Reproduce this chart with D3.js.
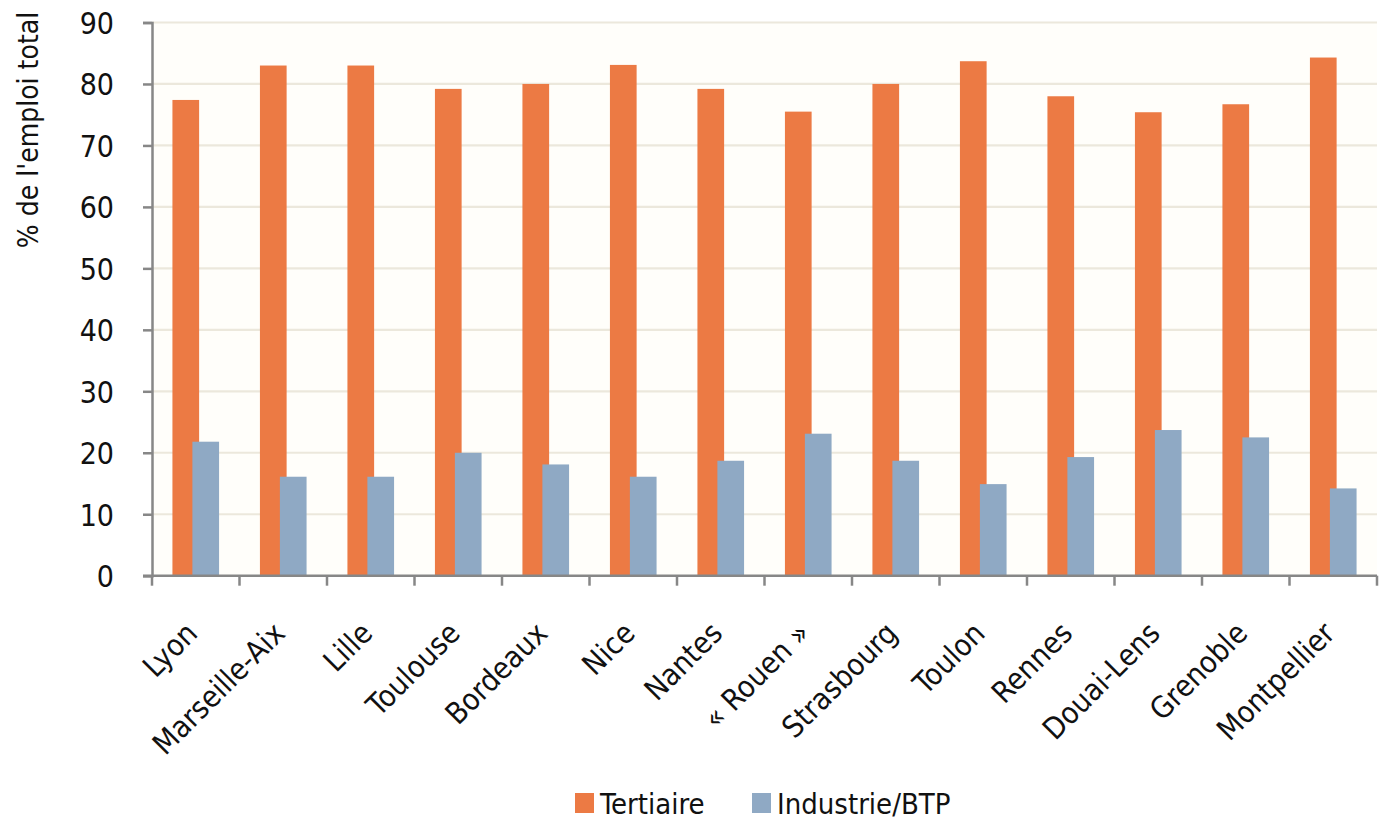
<!DOCTYPE html>
<html>
<head>
<meta charset="utf-8">
<script src="https://cdn.jsdelivr.net/npm/d3@7"></script>
<style>
  html, body { margin: 0; padding: 0; background: #ffffff; }
  svg text { font-family: "Liberation Sans Narrow", "DejaVu Sans Condensed", "Open Sans", sans-serif; font-stretch: condensed; fill: #111; }
</style>
</head>
<body>
<div id="chart"></div>
<script>
// données
const villes = ["Lyon", "Marseille-Aix", "Lille", "Toulouse", "Bordeaux", "Nice", "Nantes",
  "« Rouen »", "Strasbourg", "Toulon", "Rennes", "Douai-Lens", "Grenoble", "Montpellier"];
const tertiaire = [77.4, 83.0, 83.0, 79.2, 80.0, 83.1, 79.2, 75.5, 80.0, 83.7, 78.0, 75.4, 76.7, 84.3];
const industrie = [21.8, 16.1, 16.1, 20.0, 18.1, 16.1, 18.7, 23.1, 18.7, 14.9, 19.3, 23.7, 22.5, 14.2];
const yTicks = [0, 10, 20, 30, 40, 50, 60, 70, 80, 90];
const seriesNames = ["Tertiaire", "Industrie/BTP"];
const colors = ["#EC7A44", "#8FA9C4"];

const width = 1382, height = 825;
const margin = { top: 22.5, right: 5, bottom: 249.3, left: 152 };

const svg = d3.select("#chart").append("svg")
  .attr("width", width)
  .attr("height", height);

const x = d3.scaleBand()
  .domain(villes)
  .range([margin.left, width - margin.right])
  .padding(0);

const y = d3.scaleLinear()
  .domain([0, 90])
  .range([height - margin.bottom, margin.top]);

// fond de la zone de tracé
svg.append("rect")
  .attr("x", margin.left)
  .attr("y", y(90))
  .attr("width", x.range()[1] - margin.left)
  .attr("height", y(0) - y(90))
  .attr("fill", "#FFFEFA");

// grille
svg.append("g")
  .selectAll("line")
  .data(yTicks.filter(d => d > 0))
  .enter()
  .append("line")
  .attr("x1", margin.left)
  .attr("x2", x.range()[1])
  .attr("y1", d => y(d))
  .attr("y2", d => y(d))
  .attr("stroke", "#ECE8DC")
  .attr("stroke-width", 2.2);

// barres
const bw = x.bandwidth() * 0.305;
const overlap = x.bandwidth() * 0.077;
const data = villes.map((v, i) => ({ ville: v, values: [tertiaire[i], industrie[i]] }));

const groups = svg.append("g")
  .selectAll(".groupe")
  .data(data)
  .enter()
  .append("g")
  .attr("class", "groupe")
  .attr("transform", d => "translate(" + (x(d.ville) + x.bandwidth() / 2) + ",0)");

groups.selectAll("rect")
  .data(d => d.values)
  .enter()
  .append("rect")
  .attr("x", (d, i) => i === 0 ? -(2 * bw - overlap) / 2 : -(2 * bw - overlap) / 2 + bw - overlap)
  .attr("y", d => y(d))
  .attr("width", bw)
  .attr("height", d => y(0) - y(d))
  .attr("fill", (d, i) => colors[i]);

// axe Y
const axisY = d3.axisLeft(y)
  .tickValues(yTicks)
  .tickSize(9)
  .tickPadding(29)
  .tickFormat(d3.format("d"));

const gy = svg.append("g")
  .attr("transform", "translate(" + margin.left + ",0)")
  .call(axisY);
gy.select(".domain").attr("stroke", "#878787").attr("stroke-width", 2.5);
gy.selectAll(".tick line").attr("stroke", "#878787").attr("stroke-width", 2.5);
gy.selectAll(".tick text")
  .attr("font-size", "30px")
  .attr("fill", "#111")
  .attr("dy", "0.36em");

// axe X
svg.append("line")
  .attr("x1", margin.left - 9)
  .attr("x2", x.range()[1])
  .attr("y1", y(0))
  .attr("y2", y(0))
  .attr("stroke", "#878787")
  .attr("stroke-width", 2.5);

const bornes = villes.map(v => x(v)).concat([x.range()[1]]);
svg.append("g")
  .selectAll("line")
  .data(bornes)
  .enter()
  .append("line")
  .attr("x1", d => d)
  .attr("x2", d => d)
  .attr("y1", y(0))
  .attr("y2", y(0) + 10)
  .attr("stroke", "#878787")
  .attr("stroke-width", 2.5);

svg.append("g")
  .selectAll("text")
  .data(villes)
  .enter()
  .append("text")
  .attr("transform", d => "translate(" + (x(d) + x.bandwidth() / 2 - 4) + "," + (y(0) + 52) + ") rotate(-45)")
  .attr("text-anchor", "end")
  .attr("dy", "0.35em")
  .attr("font-size", "30px")
  .text(d => d);

// titre de l'axe Y
svg.append("text")
  .attr("transform", "translate(38,130) rotate(-90)")
  .attr("text-anchor", "middle")
  .attr("font-size", "28px")
  .text("% de l'emploi total");

// légende
const legendX = [575, 752];
const legend = svg.append("g")
  .selectAll("g")
  .data(seriesNames)
  .enter()
  .append("g")
  .attr("transform", (d, i) => "translate(" + legendX[i] + ",793)");

legend.append("rect")
  .attr("width", 19)
  .attr("height", 20)
  .attr("fill", (d, i) => colors[i]);

legend.append("text")
  .attr("x", 25)
  .attr("y", 21)
  .attr("font-size", "29px")
  .text(d => d);
</script>
</body>
</html>
